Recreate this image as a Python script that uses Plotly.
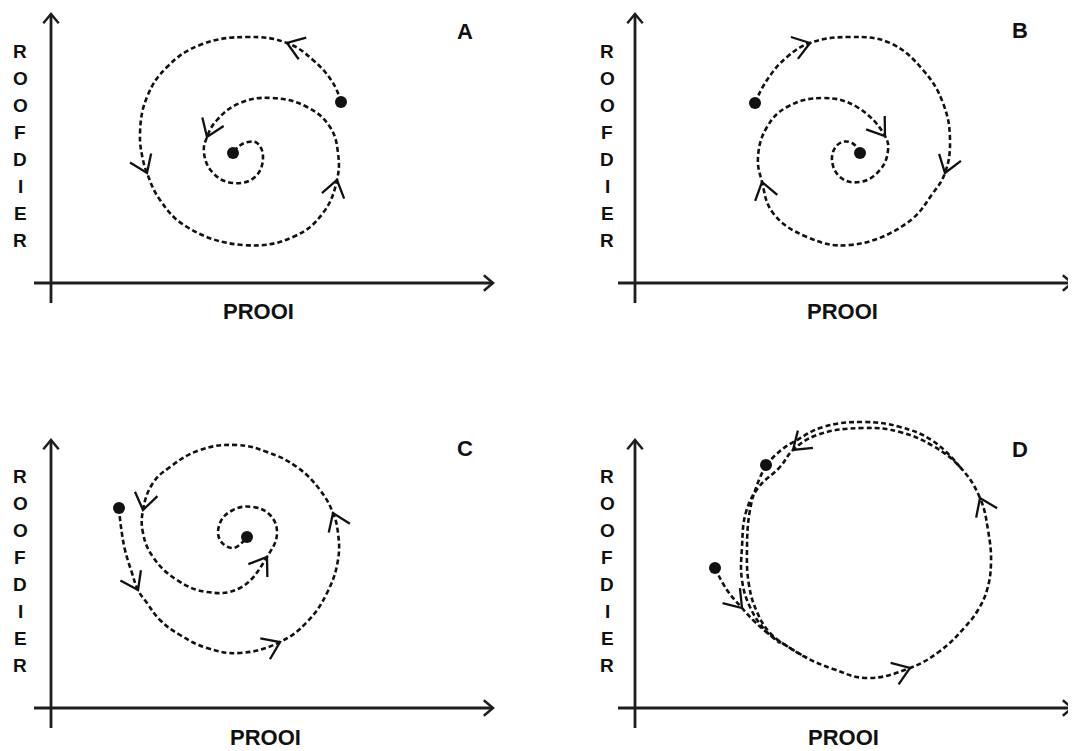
import math
import plotly.graph_objects as go

# ---------------- data (local units: x right of the vertical axis, y above the horizontal axis) ----
panel_names = ["A", "B", "C", "D"]
y_axis_letters = ["R", "O", "O", "F", "D", "I", "E", "R"]
x_axis_title = "PROOI"

# Panel A: spiral inward, anticlockwise
A_x = [290, 282, 262, 236, 196, 149, 116, 96, 89, 92, 96, 109, 136, 192, 242, 272, 286, 287, 279, 256,
       221, 189, 166, 156, 153, 162, 182, 204, 212, 206, 197, 187, 182]
A_y = [181, 200, 223, 240, 246, 238, 216, 186, 150, 123, 110, 83, 56, 38, 46, 70, 103, 130, 156, 176,
       185, 180, 163, 146, 130, 110, 100, 106, 126, 140, 141, 136, 130]
A_arrows = [3, 10, 16, 23]

# Panel B: spiral inward, clockwise
B_x = [120, 132, 152, 175, 215, 255, 288, 308, 315, 310, 298, 272, 215, 172, 138, 127, 123, 132, 152, 188,
       222, 250, 253, 245, 225, 205, 197, 205, 217, 225]
B_y = [180, 203, 226, 240, 246, 240, 213, 180, 143, 110, 90, 60, 38, 46, 70, 101, 126, 156, 176, 185,
       176, 147, 133, 113, 101, 106, 126, 140, 140, 130]
B_arrows = [3, 9, 15, 21]

# Panel C: spiral inward, anticlockwise, starting at the left
C_x = [68, 70, 74, 81, 87, 96, 109, 129, 156, 189, 229, 256, 276, 287, 287, 282, 269, 246, 216, 186,
       149, 119, 102, 92, 92, 102, 126, 156, 189, 216, 226, 219, 202, 182, 169, 169, 182, 196]
C_y = [200, 181, 158, 135, 118, 105, 88, 73, 60, 55, 66, 86, 115, 148, 175, 195, 218, 241, 256, 263,
       258, 241, 225, 198, 175, 151, 128, 116, 120, 151, 175, 193, 201, 198, 185, 168, 160, 171]
C_arrows = [4, 10, 15, 23, 29]

# Panel D: limit cycle (loop from the upper dot) + path from the lower dot + outer top arc
D1_x = [131, 122, 115, 112, 114, 122, 135, 155, 172, 198, 232, 275, 305, 330, 343, 352, 356, 353, 345, 325,
        298, 265, 228, 182, 158, 145, 123, 111, 107, 107, 115, 130, 145]
D1_y = [243, 223, 198, 161, 123, 96, 75, 60, 50, 39, 30, 40, 57, 81, 98, 118, 145, 178, 210, 241,
        262, 276, 280, 273, 258, 241, 220, 196, 161, 128, 101, 78, 65]
D1_arrows = [11, 18, 24]
D2_x = [80, 92, 107, 118, 135, 155, 172]
D2_y = [140, 118, 100, 88, 73, 60, 50]
D2_arrows = [2]
D3_x = [325, 298, 265, 228, 188, 162, 145, 131]
D3_y = [241, 267, 281, 286, 281, 268, 257, 243]

# ---------------- layout constants (pixels) ----------------
PAGE_W, PAGE_H = 1076, 751
BODY = 8                      # default page margin around the plot
W, H = PAGE_W - BODY, PAGE_H - BODY
# axis origin of each panel in page pixels
origins = {"A": (51, 283), "B": (635, 283), "C": (51, 708), "D": (635, 708)}
x_axis_end = {"A": 442, "B": 437, "C": 442, "D": 437}
y_axis_top = {"A": 269, "B": 269, "C": 268, "D": 268}
label_pos = {"A": (414, 252), "B": (385, 253), "C": (414, 260), "D": (385, 259)}
title_pos = {"A": (207, -28), "B": (207, -28), "C": (214, -29), "D": (208, -29)}
letters_x = {"A": -31, "B": -28, "C": -31, "D": -28}

INK = "#111111"
AXIS = "#1e1e1e"
FONT = "Liberation Sans, Arial, Helvetica, sans-serif"

fig = go.Figure()


def chevron_pts(vx, vy, ux, uy, L, ang):
    """arms of an open arrowhead with vertex (vx,vy) pointing along unit (ux,uy)"""
    a = math.radians(ang)
    bx, by = -ux, -uy
    p = []
    for s in (1, -1):
        c, sn = math.cos(s * a), math.sin(s * a)
        rx, ry = bx * c - by * sn, bx * sn + by * c
        p.append((vx + L * rx, vy + L * ry))
    return [p[0][0], vx, p[1][0], None], [p[0][1], vy, p[1][1], None]


def path_chevrons(px, py, idxs, L=20, ang=35):
    xs, ys = [], []
    for i in idxs:
        dx = px[i + 1] - px[i - 1]
        dy = py[i + 1] - py[i - 1]
        n = math.hypot(dx, dy)
        cx, cy = chevron_pts(px[i], py[i], dx / n, dy / n, L, ang)
        xs += cx
        ys += cy
    return xs, ys


annotations = []
layout_axes = {}

for k, name in enumerate(panel_names):
    ox, oy = origins[name]
    col = 0 if name in ("A", "C") else 1
    row = 0 if name in ("A", "B") else 1
    x0p, x1p = BODY + col * W / 2, BODY + (col + 1) * W / 2
    y0p, y1p = BODY + row * H / 2, BODY + (row + 1) * H / 2
    suffix = "" if k == 0 else str(k + 1)
    xa, ya = "x" + suffix, "y" + suffix
    layout_axes["xaxis" + suffix] = dict(domain=[col / 2, (col + 1) / 2], range=[x0p - ox, x1p - ox],
                                         visible=False, fixedrange=True, anchor=ya)
    layout_axes["yaxis" + suffix] = dict(domain=[1 - (row + 1) / 2, 1 - row / 2], range=[oy - y1p, oy - y0p],
                                         visible=False, fixedrange=True, anchor=xa)

    # coordinate axes with open arrowheads
    xe, yt = x_axis_end[name], y_axis_top[name]
    fig.add_trace(go.Scatter(x=[-17, xe, None, 0, 0], y=[0, 0, None, -20, yt], mode="lines",
                             line=dict(color=AXIS, width=2.8), xaxis=xa, yaxis=ya,
                             hoverinfo="skip", showlegend=False, cliponaxis=False))
    hx1, hy1 = chevron_pts(xe, 0, 1, 0, 12, 40)
    hx2, hy2 = chevron_pts(0, yt, 0, 1, 12, 40)
    fig.add_trace(go.Scatter(x=hx1 + hx2, y=hy1 + hy2, mode="lines",
                             line=dict(color=AXIS, width=2.5), xaxis=xa, yaxis=ya,
                             hoverinfo="skip", showlegend=False, cliponaxis=False))

    # texts
    lx, ly = label_pos[name]
    annotations.append(dict(x=lx, y=ly, xref=xa, yref=ya, text=name, showarrow=False,
                            font=dict(family=FONT, size=22, color=INK, weight="bold")))
    tx, ty = title_pos[name]
    annotations.append(dict(x=tx, y=ty, xref=xa, yref=ya, text=x_axis_title, showarrow=False,
                            font=dict(family=FONT, size=22, color=INK, weight="bold")))
    for j, ch in enumerate(y_axis_letters):
        annotations.append(dict(x=letters_x[name], y=232 - j * 27.0, xref=xa, yref=ya, text=ch,
                                showarrow=False,
                                font=dict(family=FONT, size=19, color=INK, weight="bold")))

# trajectories
paths = {
    "A": [(A_x, A_y, A_arrows)],
    "B": [(B_x, B_y, B_arrows)],
    "C": [(C_x, C_y, C_arrows)],
    "D": [(D1_x, D1_y, D1_arrows), (D2_x, D2_y, D2_arrows), (D3_x, D3_y, [])],
}
dots = {
    "A": ([A_x[0], A_x[-1]], [A_y[0], A_y[-1]]),
    "B": ([B_x[0], B_x[-1]], [B_y[0], B_y[-1]]),
    "C": ([C_x[0], C_x[-1]], [C_y[0], C_y[-1]]),
    "D": ([D1_x[0], D2_x[0]], [D1_y[0], D2_y[0]]),
}

for k, name in enumerate(panel_names):
    suffix = "" if k == 0 else str(k + 1)
    xa, ya = "x" + suffix, "y" + suffix
    for px, py, arr in paths[name]:
        fig.add_trace(go.Scatter(x=px, y=py, mode="lines",
                                 line=dict(color=INK, width=2.6, dash="5px,3px", shape="spline", smoothing=1.2),
                                 xaxis=xa, yaxis=ya, hoverinfo="skip", showlegend=False, cliponaxis=False))
        if arr:
            cx, cy = path_chevrons(px, py, arr)
            fig.add_trace(go.Scatter(x=cx, y=cy, mode="lines", line=dict(color=INK, width=2.3),
                                     xaxis=xa, yaxis=ya, hoverinfo="skip", showlegend=False,
                                     cliponaxis=False))
    dx, dy = dots[name]
    fig.add_trace(go.Scatter(x=dx, y=dy, mode="markers", marker=dict(color=INK, size=12),
                             xaxis=xa, yaxis=ya, hoverinfo="skip", showlegend=False, cliponaxis=False))

fig.update_layout(width=W, height=H, margin=dict(l=0, r=0, t=0, b=0),
                  paper_bgcolor="white", plot_bgcolor="rgba(0,0,0,0)",
                  annotations=annotations, **layout_axes)

fig.write_html("out.html")
